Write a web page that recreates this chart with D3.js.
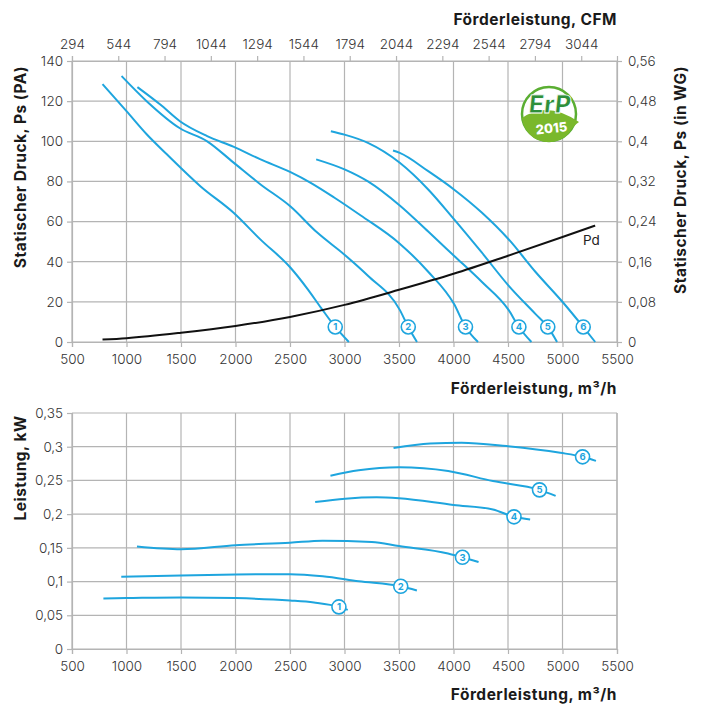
<!DOCTYPE html>
<html><head><meta charset="utf-8">
<script src="https://cdn.jsdelivr.net/npm/d3@7"></script>
<style>body{margin:0;background:#fff}svg{display:block}</style>
</head><body>
<script>
// ---- data ----
const flowTicks = [500,1000,1500,2000,2500,3000,3500,4000,4500,5000,5500];
const cfmTicks = [294,544,794,1044,1294,1544,1794,2044,2294,2544,2794,3044];
const paTicks = [0,20,40,60,80,100,120,140];
const wgTicks = [0,0.08,0.16,0.24,0.32,0.4,0.48,0.56];
const kwTicks = [0,0.05,0.1,0.15,0.2,0.25,0.3,0.35];
const curveNames = ["1","2","3","4","5","6"];

const ps1 = [[780,128.5],[1000,115],[1185,103.5],[1370,93.5],[1680,77.5],[1980,64.5],[2230,51],[2505,37],[2660,26.5],[2785,17],[2915,7.5],[3040,0]];
const ps2 = [[955,132.5],[1185,120],[1490,106.5],[1740,100],[1980,89.5],[2230,78.5],[2505,67.5],[2750,54.5],[3000,43.5],[3215,33],[3507,16],[3585,7.5],[3665,0]];
const ps3 = [[1100,127],[1310,118.3],[1490,110],[1740,102.6],[1980,97.3],[2230,91],[2505,84.6],[2690,79.3],[2905,72],[3150,63],[3507,49],[3768,35],[4004,19],[4110,7.5],[4225,0]];
const ps4 = [[2740,91],[3000,86],[3215,80],[3507,68],[3768,55],[4004,43],[4259,30],[4505,16],[4600,7.5],[4715,0]];
const ps5 = [[2875,105],[3000,103.3],[3215,99.2],[3507,89.3],[3768,76],[4004,61.2],[4259,44.6],[4505,28.1],[4751,14],[4865,7.5],[4950,0]];
const ps6 = [[3445,95.4],[3507,94.2],[3768,85.1],[4004,76],[4259,64.5],[4505,51.2],[4751,35],[5003,19.8],[5190,7.5],[5300,0]];
const pd  = [[780,1.2],[1000,1.9],[1500,4.6],[2000,8],[2500,12.5],[3000,18.5],[3500,26],[4000,34],[4500,43],[5000,52.3],[5300,58]];
const psLabels = [[2915,7.5],[3585,7.5],[4110,7.5],[4600,7.5],[4865,7.5],[5190,7.5]];

const kw1 = [[788,0.075],[1000,0.0755],[1500,0.0765],[2000,0.0755],[2500,0.072],[2720,0.069],[2950,0.0625],[3030,0.058]];
const kw2 = [[952,0.107],[1500,0.109],[2000,0.1105],[2500,0.111],[2800,0.108],[3130,0.1006],[3516,0.093],[3664,0.0867]];
const kw3 = [[1096,0.152],[1500,0.148],[2000,0.154],[2500,0.1576],[2800,0.1606],[3250,0.1586],[3500,0.1526],[3950,0.1417],[4082,0.136],[4230,0.129]];
const kw4 = [[2731,0.218],[3006,0.223],[3294,0.225],[3500,0.2235],[4000,0.2136],[4362,0.207],[4555,0.196],[4703,0.192]];
const kw5 = [[2871,0.257],[3130,0.265],[3500,0.2696],[3951,0.264],[4362,0.249],[4789,0.236],[4937,0.227]];
const kw6 = [[3450,0.298],[3787,0.3047],[4074,0.306],[4485,0.301],[4979,0.291],[5184,0.285],[5307,0.279]];
const kwLabels = [[2949,0.0624],[3516,0.093],[4082,0.136],[4555,0.196],[4789,0.236],[5184,0.285]];

const M3H_PER_CFM = 1.699;

// ---- drawing ----
const W = 701, H = 704;
const FONT = "Inter, 'Open Sans', sans-serif";
const BLUE = "#1ea5de", GRID = "#b4b4b4", TXT = "#333";
const svg = d3.select("body").append("svg").attr("width", W).attr("height", H)
  .style("font-family", FONT);

const x = d3.scaleLinear().domain([500,5500]).range([72,617]);
const yPa = d3.scaleLinear().domain([0,140]).range([342,61]);
const yWg = d3.scaleLinear().domain([0,0.56]).range([342,61]);
const xCfm = d3.scaleLinear().domain([500/M3H_PER_CFM, 5500/M3H_PER_CFM]).range([72,617]);
const yKw = d3.scaleLinear().domain([0,0.35]).range([649,413]);
const fmt = d => String(d).replace(".", ",");

function grid(g, y, yt) {
  g.selectAll(".vg").data(flowTicks).join("line")
    .attr("x1", d => x(d)).attr("x2", d => x(d))
    .attr("y1", y.range()[1]).attr("y2", y.range()[0])
    .attr("stroke", GRID).attr("stroke-width", 1.2);
  g.selectAll(".hg").data(yt).join("line")
    .attr("x1", 72).attr("x2", 617)
    .attr("y1", d => y(d)).attr("y2", d => y(d))
    .attr("stroke", GRID).attr("stroke-width", 1.2);
}
function styleAxis(g) {
  g.select(".domain").attr("stroke", GRID).attr("stroke-width", 1.2);
  g.selectAll(".tick line").attr("stroke", GRID).attr("stroke-width", 1.2);
  g.selectAll(".tick text").attr("fill", TXT).style("font-size", "13.5px")
    .style("font-weight", "300").style("font-family", FONT);
}

// top chart
const gTop = svg.append("g");
grid(gTop.append("g"), yPa, paTicks);
gTop.append("g").attr("transform","translate(0,342)")
  .call(d3.axisBottom(x).tickValues(flowTicks).tickSize(5).tickPadding(7).tickFormat(d=>d)).call(styleAxis);
gTop.append("g").attr("transform","translate(72,0)")
  .call(d3.axisLeft(yPa).tickValues(paTicks).tickSize(5).tickPadding(4)).call(styleAxis);
gTop.append("g").attr("transform","translate(617,0)")
  .call(d3.axisRight(yWg).tickValues(wgTicks).tickSize(5).tickPadding(6).tickFormat(fmt)).call(styleAxis);
gTop.append("g").attr("transform","translate(0,61)")
  .call(d3.axisTop(xCfm).tickValues(cfmTicks).tickSize(5).tickPadding(7).tickFormat(d=>d)).call(styleAxis);

const linePa = d3.line().x(d => x(d[0])).y(d => yPa(d[1])).curve(d3.curveMonotoneX);
[ps1,ps2,ps3,ps4,ps5,ps6].forEach(c => gTop.append("path").attr("d", linePa(c))
  .attr("fill","none").attr("stroke",BLUE).attr("stroke-width",2));
gTop.append("path").attr("d", linePa(pd)).attr("fill","none").attr("stroke","#111").attr("stroke-width",2);
gTop.append("text").attr("x", 583).attr("y", 245).text("Pd").attr("fill","#222").style("font-size","13.5px");

function markers(g, pts, y) {
  const m = g.selectAll(".mk").data(pts).join("g")
    .attr("transform", d => `translate(${x(d[0])},${y(d[1])})`);
  m.append("circle").attr("r", 7).attr("fill","#fff").attr("stroke",BLUE).attr("stroke-width",1.6);
  m.append("text").text((d,i)=>curveNames[i]).attr("text-anchor","middle").attr("dy","0.36em")
    .attr("fill",BLUE).style("font-size","9.5px").style("font-weight","700");
}
markers(gTop.append("g"), psLabels, yPa);

// titles
const bold = s => s.style("font-weight","700").attr("fill","#1a1a1a").style("font-size","15.5px")
  .style("letter-spacing","0.5px");
svg.append("text").attr("x",617).attr("y",25).attr("text-anchor","end").text("Förderleistung, CFM").call(bold);
svg.append("text").attr("x",617).attr("y",394).attr("text-anchor","end").text("Förderleistung, m³/h").call(bold);
svg.append("text").attr("transform","translate(26,167) rotate(-90)").attr("text-anchor","middle")
  .text("Statischer Druck, Ps (PA)").call(bold);
svg.append("text").attr("transform","translate(686,180) rotate(-90)").attr("text-anchor","middle")
  .text("Statischer Druck, Ps (in WG)").call(bold);

// ErP logo
const logo = svg.append("g").attr("transform","translate(549,114)");
logo.append("circle").attr("r",27).attr("fill","#fff").attr("stroke","#5aae32").attr("stroke-width",2.5);
logo.append("path").attr("d","M-27,4 A27,27 0 0 0 20,19 Q24,12 30,8 Q-2,-14 -27,4 Z").attr("fill","#7ab82c");
logo.append("text").attr("x",0).attr("y",-1).attr("text-anchor","middle").text("ErP")
  .attr("fill","#2e8f3a").attr("stroke","#fff").attr("stroke-width",0.8)
  .style("font-size","25px").style("font-weight","800").attr("transform","skewX(-6)");
logo.append("text").attr("x",1).attr("y",19).attr("text-anchor","middle").text("2015")
  .attr("fill","#fff").style("font-size","13px").style("font-weight","800").attr("transform","rotate(-6)");

// bottom chart
const gBot = svg.append("g");
grid(gBot.append("g"), yKw, kwTicks);
gBot.append("line").attr("x1",617).attr("x2",617).attr("y1",413).attr("y2",649).attr("stroke",GRID).attr("stroke-width",1.2);
gBot.append("g").attr("transform","translate(0,649)")
  .call(d3.axisBottom(x).tickValues(flowTicks).tickSize(5).tickPadding(7).tickFormat(d=>d)).call(styleAxis);
gBot.append("g").attr("transform","translate(72,0)")
  .call(d3.axisLeft(yKw).tickValues(kwTicks).tickSize(5).tickPadding(4).tickFormat(fmt)).call(styleAxis);
const lineKw = d3.line().x(d => x(d[0])).y(d => yKw(d[1])).curve(d3.curveMonotoneX);
[kw1,kw2,kw3,kw4,kw5,kw6].forEach(c => gBot.append("path").attr("d", lineKw(c))
  .attr("fill","none").attr("stroke",BLUE).attr("stroke-width",2));
markers(gBot.append("g"), kwLabels, yKw);
svg.append("text").attr("x",617).attr("y",700).attr("text-anchor","end").text("Förderleistung, m³/h").call(bold);
svg.append("text").attr("transform","translate(26,468) rotate(-90)").attr("text-anchor","middle")
  .text("Leistung, kW").call(bold);
</script>
</body></html>
